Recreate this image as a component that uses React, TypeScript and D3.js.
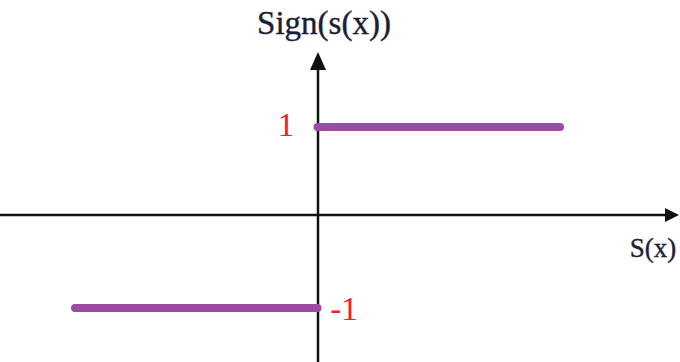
import React from "react";
import * as d3 from "d3";

// Piecewise sign function: each segment spans an x-interval at a constant value
const segStart = [-1, 0];
const segEnd = [0, 1];
const segValue = [-1, 1];
const valueLabels = ["-1", "1"];
const yAxisTitle = "Sign(s(x))";
const xAxisTitle = "S(x)";

const W = 680;
const H = 362;

export default function App() {
  const x = d3.scaleLinear().domain([-1, 1]).range([75, 560]);
  const y = d3.scaleLinear().domain([-1, 1]).range([308, 127]);
  const x0 = 318;
  const y0 = 215;

  const line = d3.line<[number, number]>().x((d) => x(d[0])).y((d) => y(d[1]));

  return (
    <svg
      width={W}
      height={H}
      style={{ position: "absolute", left: 0, top: 0, background: "#fff" }}
      fontFamily="'Liberation Serif', 'Times New Roman', serif"
    >
      {/* horizontal axis with arrow */}
      <line x1={0} x2={668} y1={y0} y2={y0} stroke="#111" strokeWidth={2.5} />
      <path d={`M${679},${y0} L${665},${y0 - 7} L${665},${y0 + 7} Z`} fill="#111" />
      {/* vertical axis with arrow */}
      <line x1={x0} x2={x0} y1={H} y2={64} stroke="#111" strokeWidth={2.5} />
      <path d={`M${x0},${52} L${x0 - 8},${70} L${x0 + 8},${70} Z`} fill="#111" />

      {/* sign segments */}
      {segValue.map((v, i) => {
        const pts: [number, number][] = [
          [segStart[i], v],
          [segEnd[i], v],
        ];
        return (
          <path
            key={i}
            d={line(pts) ?? ""}
            stroke="#9b4ba3"
            strokeWidth={8}
            strokeLinecap="round"
            fill="none"
          />
        );
      })}

      {/* value labels */}
      <text x={286} y={136} fill="#f0202a" fontSize={33} textAnchor="middle">
        {valueLabels[1]}
      </text>
      <text x={344} y={320} fill="#f0202a" fontSize={33} textAnchor="middle">
        {valueLabels[0]}
      </text>

      {/* axis titles */}
      <text
        x={324}
        y={34}
        fill="#1c1f38"
        fontSize={33}
        textAnchor="middle"
        stroke="#1c1f38"
        strokeWidth={0.4}
      >
        {yAxisTitle}
      </text>
      <text
        x={653}
        y={257}
        fill="#1c1f38"
        fontSize={27}
        textAnchor="middle"
        stroke="#1c1f38"
        strokeWidth={0.4}
      >
        {xAxisTitle}
      </text>
    </svg>
  );
}
